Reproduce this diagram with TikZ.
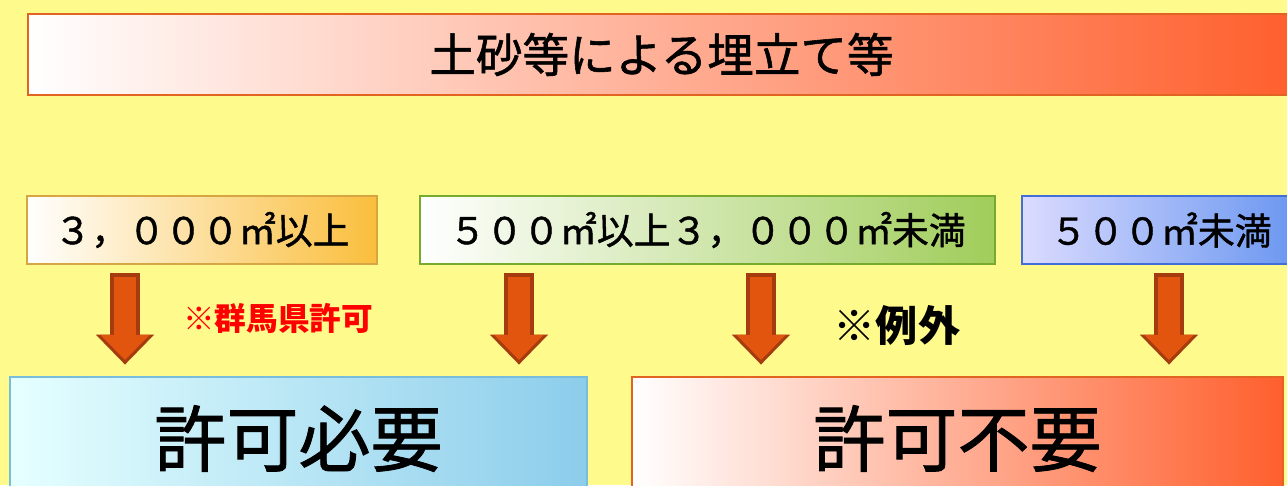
\documentclass[tikz,border=0pt]{standalone}
\usepackage{fontspec}
\newfontfamily\jp{Noto Sans CJK JP}
\newfontfamily\jpmed[FakeBold=1.2]{Noto Sans CJK JP}
\usetikzlibrary{arrows.meta}
\definecolor{bg}{RGB}{255, 250, 140}
\definecolor{hot}{RGB}{255, 95, 45}
\definecolor{hotedge}{RGB}{225, 100, 35}
\definecolor{gold}{RGB}{250, 190, 60}
\definecolor{goldedge}{RGB}{215, 165, 65}
\definecolor{leaf}{RGB}{160, 205, 90}
\definecolor{leafedge}{RGB}{120, 170, 45}
\definecolor{sky}{RGB}{105, 150, 240}
\definecolor{skyedge}{RGB}{65, 110, 215}
\definecolor{ice}{RGB}{140, 205, 235}
\definecolor{iceedge}{RGB}{120, 190, 220}
\definecolor{arrowfill}{RGB}{225, 85, 15}
\definecolor{arrowedge}{RGB}{165, 60, 15}

\begin{document}
\begin{tikzpicture}[x=0.02cm, y=-0.02cm, font=\jp,
  box/.style={draw, line width=1.2pt, inner sep=0pt, minimum height=1.36cm,
    font=\jpmed\fontsize{21}{21}\selectfont},
  bigbox/.style={draw, line width=1.2pt, inner sep=0pt, minimum height=2.46cm,
    font=\jpmed\fontsize{41}{41}\selectfont},
  flowout/.style={arrowedge, line width=17pt,
    -{Triangle[width=1.17cm, length=0.6cm, line width=0pt]}},
  flowin/.style={arrowfill, line width=12pt,
    -{Triangle[width=0.98cm, length=0.5cm, line width=0pt]}}]
  \fill [bg] (0, 0) rectangle (1287, 485);
  \useasboundingbox (0, 0) rectangle (1287, 485);

  \node [box, minimum width=25.34cm, minimum height=1.62cm, draw=hotedge,
    left color=white, right color=hot, font=\jpmed\fontsize{26.5}{26.5}\selectfont]
    (title) at (661.5, 54.5) {土砂等による埋立て等};

  \node [box, minimum width=7cm, draw=goldedge, left color=white, right color=gold]
    (big) at (202, 230) {３，０００㎡以上};
  \node [box, minimum width=11.5cm, draw=leafedge, left color=white, right color=leaf]
    (mid) at (707.5, 230) {５００㎡以上３，０００㎡未満};
  \node [box, minimum width=5.56cm, draw=skyedge, left color=blue!14, right color=sky]
    (small) at (1161, 230) {５００㎡未満};

  \node [bigbox, minimum width=11.54cm, draw=iceedge, left color=cyan!10, right color=ice]
    (need) at (298.5, 438.5) {許可必要};
  \node [bigbox, minimum width=13.02cm, draw=hotedge, left color=white, right color=hot]
    (free) at (957.5, 438.5) {許可不要};

  % arrow columns
  \coordinate (col1) at (125, 0);
  \coordinate (col2) at (519, 0);
  \coordinate (col3) at (761, 0);
  \coordinate (col4) at (1169, 0);

  \foreach \col/\from/\to in {col1/big/need, col2/mid/need, col3/mid/free, col4/small/free} {
    \draw [flowout, shorten <=4.5pt, shorten >=6.5pt] (\col |- \from.south) -- (\col |- \to.north);
    \draw [flowin, shorten <=6.9pt, shorten >=9.1pt] (\col |- \from.south) -- (\col |- \to.north);
  }

  \node [text=red, font=\jp\bfseries\fontsize{18}{18}\selectfont] (gunma) at (278, 318) {※群馬県許可};
  \node [font=\jp\bfseries\fontsize{24}{24}\selectfont] (except) at (897, 325) {※例外};
\end{tikzpicture}
\end{document}
